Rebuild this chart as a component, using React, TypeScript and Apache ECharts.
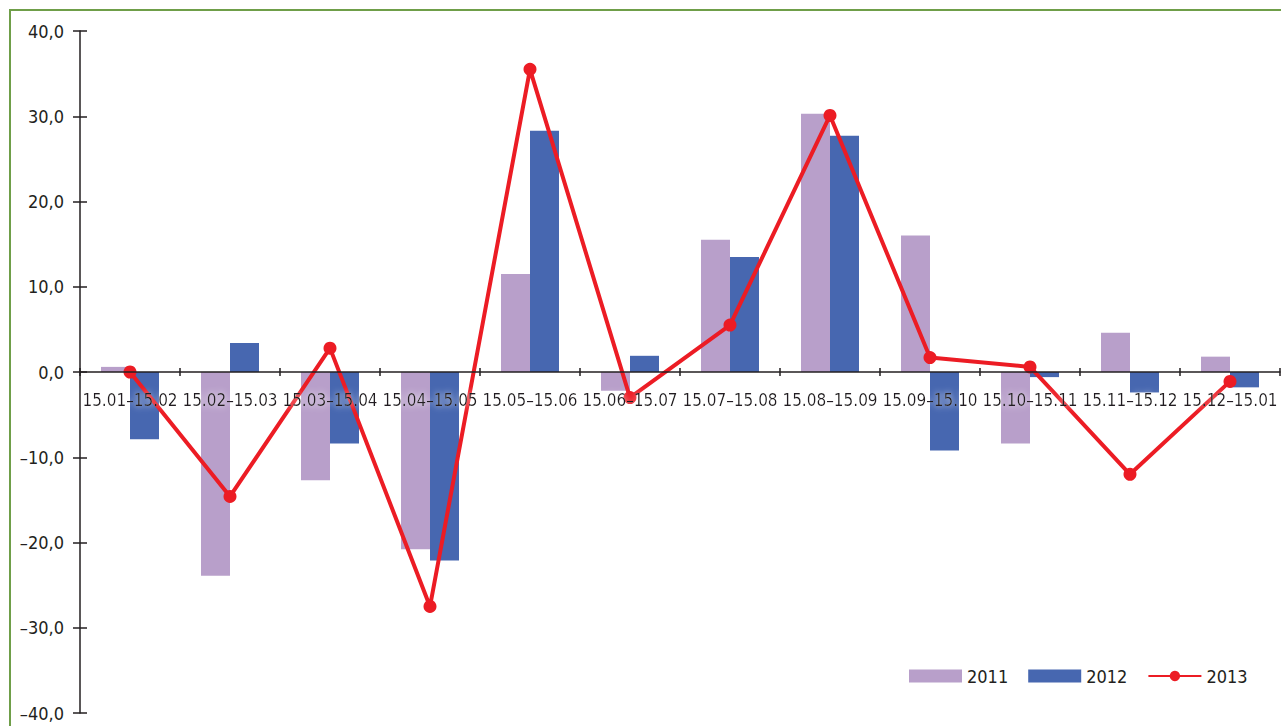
import React, { useEffect, useRef } from "react";
import * as echarts from "echarts";

const categories = [
  "15.01–15.02", "15.02–15.03", "15.03–15.04", "15.04–15.05",
  "15.05–15.06", "15.06–15.07", "15.07–15.08", "15.08–15.09",
  "15.09–15.10", "15.10–15.11", "15.11–15.12", "15.12–15.01",
];
const s2011 = [0.6, -23.9, -12.7, -20.8, 11.5, -2.2, 15.5, 30.3, 16.0, -8.4, 4.6, 1.8];
const s2012 = [-7.9, 3.4, -8.4, -22.1, 28.3, 1.9, 13.5, 27.7, -9.2, -0.6, -2.4, -1.8];
const s2013 = [0.0, -14.6, 2.8, -27.5, 35.5, -3.0, 5.5, 30.1, 1.7, 0.6, -12.0, -1.1];
const seriesNames = ["2011", "2012", "2013"];
const yMin = -40;
const yMax = 40;
const yStep = 10;

const FONT = "'Liberation Sans Narrow', 'DejaVu Sans Condensed', 'DejaVu Sans', sans-serif";
const TXT = "#231f20";

const GRID_TOP = 31;
const GRID_BOTTOM = 13;
const CHART_H = 726;
// x axis sits on the zero line, which is the middle of the symmetric value range
const ZERO_OFFSET = -(CHART_H - GRID_TOP - GRID_BOTTOM) / 2;

export default function App() {
  const ref = useRef<HTMLDivElement>(null);
  useEffect(() => {
    if (!ref.current) return;
    const chart = echarts.init(ref.current, null, { renderer: "svg" });
    const fmt = (v: number) => v.toFixed(1).replace(".", ",").replace("-", "–");
    chart.setOption({
      animation: false,
      textStyle: { fontFamily: FONT },
      grid: { left: 80, right: 1, top: GRID_TOP, bottom: GRID_BOTTOM, containLabel: false, outerBoundsMode: "none" },
      legend: {
        left: 904,
        top: 662,
        itemWidth: 53,
        itemHeight: 13,
        itemGap: 20,
        textStyle: { fontFamily: FONT, fontSize: 18, color: TXT },
        data: [
          { name: seriesNames[0], icon: "rect" },
          { name: seriesNames[1], icon: "rect" },
          { name: seriesNames[2] },
        ],
      },
      xAxis: [
        {
          type: "category",
          data: categories,
          position: "bottom",
          offset: ZERO_OFFSET,
          z: 10,
          axisLine: { onZero: false, lineStyle: { color: TXT, width: 1.5 } },
          axisTick: { show: true, length: 4, lineStyle: { color: TXT, width: 1.5 } },
          axisLabel: {
            interval: 0,
            margin: 19,
            fontFamily: FONT,
            fontSize: 17,
            color: TXT,
            textShadowColor: "rgba(255,255,255,0.95)",
            textShadowBlur: 6,
          },
        },
        {
          type: "category",
          data: categories,
          position: "bottom",
          offset: ZERO_OFFSET,
          z: 10,
          axisLine: { show: false, onZero: false },
          axisTick: { show: true, inside: true, length: 4, lineStyle: { color: TXT, width: 1.5 } },
          axisLabel: { show: false },
          splitLine: { show: false },
        },
      ],
      yAxis: [
        {
          type: "value",
          min: yMin,
          max: yMax,
          interval: yStep,
          position: "left",
          splitLine: { show: false },
          axisLine: { show: true, onZero: false, lineStyle: { color: TXT, width: 1.5 } },
          axisTick: { show: true, length: 7, lineStyle: { color: TXT, width: 1.5 } },
          axisLabel: { margin: 16, fontFamily: FONT, fontSize: 18, color: TXT, formatter: fmt },
        },
        {
          type: "value",
          min: yMin,
          max: yMax,
          interval: yStep,
          position: "left",
          splitLine: { show: false },
          axisLine: { show: false, onZero: false },
          axisTick: { show: true, inside: true, length: 7, lineStyle: { color: TXT, width: 1.5 } },
          axisLabel: { show: false },
        },
      ],
      series: [
        {
          name: seriesNames[0],
          type: "bar",
          data: s2011,
          barWidth: 29,
          barGap: "0%",
          itemStyle: { color: "#b89fca" },
        },
        {
          name: seriesNames[1],
          type: "bar",
          data: s2012,
          barWidth: 29,
          barGap: "0%",
          itemStyle: { color: "#4767b0" },
        },
        {
          name: seriesNames[2],
          type: "line",
          data: s2013,
          z: 5,
          symbol: "circle",
          symbolSize: 13,
          lineStyle: { color: "#ec1c24", width: 4 },
          itemStyle: { color: "#ec1c24" },
        },
      ],
    });
    return () => chart.dispose();
  }, []);
  return (
    <div style={{ position: "fixed", left: 0, top: 0, width: 1281, height: 726, overflow: "hidden", background: "#fff" }}>
      <div style={{ position: "absolute", left: 9, top: 9, width: 1400, height: 900, border: "2px solid #6f9e49" }} />
      <div ref={ref} style={{ position: "absolute", left: 0, top: 0, width: 1281, height: 726 }} />
    </div>
  );
}
